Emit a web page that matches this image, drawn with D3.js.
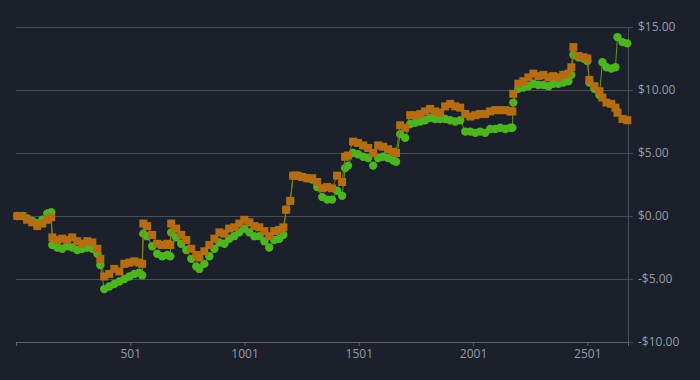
<!DOCTYPE html>
<html><head><meta charset="utf-8">
<script src="https://cdn.jsdelivr.net/npm/d3@7"></script>
<style>
html,body{margin:0;padding:0;background:#1b202b;}
svg{display:block;}
</style></head>
<body>
<svg id="chart" width="700" height="380"></svg>
<script>
const days = [7,29,50,72,94,116,138,155,160,182,203,225,247,269,291,313,335,357,370,387,409,431,453,475,497,519,540,553,558,575,597,619,641,663,676,680,702,724,746,768,790,803,825,847,869,891,913,934,956,978,1000,1022,1044,1066,1088,1109,1131,1153,1171,1183,1201,1214,1232,1253,1275,1297,1319,1341,1363,1384,1406,1428,1441,1454,1476,1498,1520,1542,1564,1586,1607,1629,1651,1664,1682,1704,1726,1748,1770,1791,1813,1835,1857,1879,1901,1923,1945,1967,1989,2011,2032,2054,2076,2098,2120,2142,2164,2173,2177,2199,2221,2243,2265,2287,2309,2331,2352,2374,2396,2418,2431,2440,2462,2484,2501,2510,2532,2554,2567,2585,2606,2624,2633,2655,2676];
const seriesOrange = [0.0,0.0,-0.3,-0.5,-0.8,-0.6,-0.3,-0.1,-1.7,-1.9,-1.8,-1.9,-1.7,-2.0,-2.2,-2.0,-2.1,-2.6,-3.4,-4.8,-4.6,-4.2,-4.4,-3.8,-3.7,-3.6,-3.7,-3.8,-0.6,-0.8,-1.5,-2.2,-2.3,-2.2,-2.3,-0.6,-1.0,-1.5,-1.9,-2.6,-3.1,-3.3,-2.8,-2.3,-1.8,-1.3,-1.4,-1.0,-0.9,-0.6,-0.3,-0.5,-0.8,-0.9,-1.2,-1.6,-1.2,-1.1,-0.9,0.5,1.2,3.2,3.2,3.1,3.0,3.0,2.7,2.2,2.3,2.2,3.2,2.7,4.7,4.8,5.9,5.8,5.6,5.4,5.0,5.6,5.5,5.3,5.1,5.0,7.2,7.0,8.0,8.0,8.1,8.3,8.5,8.3,8.2,8.7,8.9,8.7,8.6,8.1,7.9,8.0,8.1,8.1,8.3,8.4,8.4,8.4,8.3,8.3,9.7,10.5,10.7,11.0,11.3,11.1,11.2,11.0,11.1,11.0,11.2,11.3,11.8,13.4,12.7,12.6,12.5,10.8,10.3,9.9,9.4,9.0,8.9,8.6,8.2,7.7,7.6];
const seriesGreen = [0.0,0.0,-0.2,-0.4,-0.6,-0.3,0.2,0.3,-2.3,-2.5,-2.6,-2.4,-2.5,-2.7,-2.6,-2.5,-2.6,-3.0,-3.9,-5.8,-5.6,-5.4,-5.2,-5.0,-4.8,-4.6,-4.5,-4.7,-1.4,-1.6,-2.4,-3.0,-3.2,-3.1,-3.2,-1.3,-1.7,-2.2,-2.7,-3.4,-4.0,-4.2,-3.8,-3.2,-2.6,-2.1,-2.2,-1.8,-1.6,-1.3,-1.0,-1.3,-1.6,-1.6,-2.0,-2.5,-1.9,-1.8,-1.5,0.5,1.2,3.2,3.2,3.1,3.0,2.9,2.3,1.5,1.3,1.3,2.0,1.6,3.8,4.0,5.0,4.9,4.7,4.6,4.0,4.6,4.7,4.6,4.4,4.3,6.5,6.2,7.3,7.4,7.5,7.6,7.8,7.7,7.7,7.7,7.6,7.5,7.6,6.7,6.7,6.6,6.7,6.6,6.9,6.9,7.0,6.9,7.0,7.0,9.0,10.1,10.2,10.3,10.5,10.4,10.4,10.3,10.5,10.5,10.6,10.7,11.2,12.8,12.6,12.5,12.3,10.6,10.1,9.6,12.2,11.8,11.7,11.8,14.2,13.8,13.7];
const xTickValues = [501,1001,1501,2001,2501];
const xTickLabels = ["501","1001","1501","2001","2501"];
const yTickValues = [-10,-5,0,5,10,15];
const yTickLabels = ["-$10.00","-$5.00","$0.00","$5.00","$10.00","$15.00"];

const svg = d3.select("#chart");
const L = 16, R = 628, T = 27, B = 342;
const x = d3.scaleLinear().domain([1, 2679]).range([L, R]);
const y = d3.scaleLinear().domain([-10, 15]).range([B, T]);

const gridColor = "#474c57";
const textColor = "#989ca4";
const fontFam = "'Open Sans', 'Noto Sans', sans-serif";

const yAxis = d3.axisRight(y).tickValues(yTickValues)
  .tickFormat((d,i) => yTickLabels[i]).tickSize(0).tickPadding(10);
const gy = svg.append("g").attr("transform", `translate(${R},0)`).call(yAxis);
gy.select(".domain").attr("stroke", gridColor).attr("shape-rendering", "crispEdges");
gy.selectAll(".tick text").attr("fill", textColor).style("font-family", fontFam).style("font-size", "12px");
svg.append("g").selectAll("line").data(yTickValues.filter(v => v > -10)).join("line")
  .attr("x1", L).attr("x2", R + 5).attr("y1", d => y(d)).attr("y2", d => y(d))
  .attr("stroke", gridColor).attr("stroke-width", 1).attr("shape-rendering", "crispEdges");
svg.append("line").attr("x1", R).attr("x2", R + 5).attr("y1", y(-10)).attr("y2", y(-10))
  .attr("stroke", gridColor).attr("shape-rendering", "crispEdges");

const xAxis = d3.axisBottom(x).tickValues(xTickValues)
  .tickFormat((d,i) => xTickLabels[i]).tickSize(4).tickPadding(3);
const gx = svg.append("g").attr("transform", `translate(0,${B})`).call(xAxis);
gx.select(".domain").attr("stroke", "#5c616b").attr("shape-rendering", "crispEdges");
gx.selectAll(".tick line").attr("stroke", "#5c616b");
gx.selectAll(".tick text").attr("fill", textColor).style("font-family", fontFam).style("font-size", "12px");

const green = "#4cb51f", orange = "#b56d13";
const line = d3.line().x((d,i) => x(days[i])).y(d => y(d));

svg.append("path").datum(seriesGreen).attr("d", line)
  .attr("fill", "none").attr("stroke", "#5f9a1c").attr("stroke-width", 1);
svg.append("g").selectAll("circle").data(seriesGreen).join("circle")
  .attr("cx", (d,i) => x(days[i])).attr("cy", d => y(d)).attr("r", 4.2).attr("fill", green);

svg.append("path").datum(seriesOrange).attr("d", line)
  .attr("fill", "none").attr("stroke", "#8a7a1a").attr("stroke-width", 1);
svg.append("g").selectAll("rect").data(seriesOrange).join("rect")
  .attr("x", (d,i) => x(days[i]) - 4).attr("y", d => y(d) - 4)
  .attr("width", 8).attr("height", 8).attr("fill", orange);
</script>
</body></html>
